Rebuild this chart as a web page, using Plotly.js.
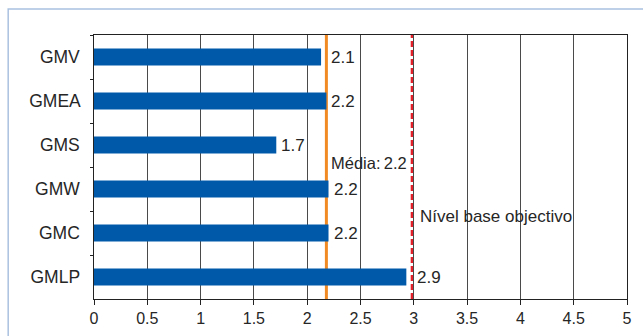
<!DOCTYPE html>
<html>
<head>
<meta charset="utf-8">
<script src="https://cdn.plot.ly/plotly-3.0.1.min.js"></script>
<style>
  html, body { margin: 0; padding: 0; background: #ffffff; }
  #chart { width: 643px; height: 336px; }
</style>
</head>
<body>
<div id="chart"></div>
<script>
// Índice por grupo, média e nível base objectivo
const groups = ['GMV', 'GMEA', 'GMS', 'GMW', 'GMC', 'GMLP'];
const scores = [2.13, 2.18, 1.71, 2.2, 2.2, 2.93];
const average = 2.18;
const targetLevel = 2.985;
const xTicks = [0, 0.5, 1, 1.5, 2, 2.5, 3, 3.5, 4, 4.5, 5];
const xTickText = ['0', '0.5', '1', '1.5', '2', '2.5', '3', '3.5', '4', '4.5', '5'];

const FONT = '"Liberation Sans", Arial, sans-serif';
const TEXT = '#262626';

const bars = {
  type: 'bar',
  orientation: 'h',
  y: groups,
  x: scores,
  width: 0.39,
  marker: { color: '#005aa9', line: { width: 0 } },
  hoverinfo: 'x+y'
};

// value labels: pushed past a reference line when it sits just to the right of a bar
const refLines = [average, targetLevel];
const valueLabels = groups.map((g, i) => {
  let lx = scores[i];
  refLines.forEach(L => { if (L >= lx && L - lx < 0.1) lx = L; });
  return {
    x: lx, y: g, xref: 'x', yref: 'y',
    text: scores[i].toFixed(1),
    showarrow: false, xanchor: 'left', yanchor: 'middle', xshift: 3,
    font: { family: FONT, size: 17, color: TEXT }
  };
});

const layout = {
  width: 643,
  height: 336,
  margin: { l: 94, r: 16, t: 35, b: 37 },
  paper_bgcolor: '#ffffff',
  plot_bgcolor: '#ffffff',
  showlegend: false,
  bargap: 0.6,
  font: { family: FONT, size: 16, color: TEXT },
  xaxis: {
    range: [0, 5],
    tickvals: xTicks,
    ticktext: xTickText,
    showgrid: true,
    gridcolor: '#4a4a4a',
    gridwidth: 1,
    zeroline: false,
    showline: true,
    linecolor: '#222222',
    linewidth: 1,
    mirror: true,
    ticks: 'outside',
    ticklen: 5,
    tickcolor: '#222222',
    tickfont: { family: FONT, size: 16, color: TEXT },
    fixedrange: true
  },
  yaxis: {
    type: 'category',
    categoryorder: 'array',
    categoryarray: groups,
    autorange: 'reversed',
    showgrid: false,
    zeroline: false,
    showline: true,
    linecolor: '#222222',
    linewidth: 1,
    mirror: true,
    ticks: 'outside',
    tickson: 'boundaries',
    ticklen: 3,
    tickcolor: '#222222',
    ticksuffix: '  ',
    tickfont: { family: FONT, size: 17.5, color: TEXT },
    fixedrange: true
  },
  shapes: [
    // outer frame (top and left edges)
    {
      type: 'path', xref: 'paper', yref: 'paper',
      path: 'M -0.161,-0.3 L -0.161,1.0985 L 1.2,1.0985',
      line: { color: '#a9c1df', width: 1.5 }
    },
    // average line, behind the bars
    {
      type: 'line', xref: 'x', yref: 'paper', layer: 'below',
      x0: average, x1: average, y0: 0, y1: 1,
      line: { color: '#f28a24', width: 3 }
    },
    // target level
    {
      type: 'line', xref: 'x', yref: 'paper', layer: 'below',
      x0: targetLevel, x1: targetLevel, y0: 0, y1: 1,
      line: { color: '#e3202a', width: 3, dash: '6px,3px' }
    }
  ],
  annotations: valueLabels.concat([
    {
      x: average, y: 0.515, xref: 'x', yref: 'paper',
      text: 'Média:\u2009' + average.toFixed(1),
      showarrow: false, xanchor: 'left', yanchor: 'middle', xshift: 3,
      font: { family: FONT, size: 16.5, color: TEXT }
    },
    {
      x: targetLevel, y: 0.312, xref: 'x', yref: 'paper',
      text: 'Nível base objectivo',
      showarrow: false, xanchor: 'left', yanchor: 'middle', xshift: 6,
      font: { family: FONT, size: 17, color: TEXT }
    }
  ])
};

Plotly.newPlot('chart', [bars], layout, { displayModeBar: false, staticPlot: true });
</script>
</body>
</html>
